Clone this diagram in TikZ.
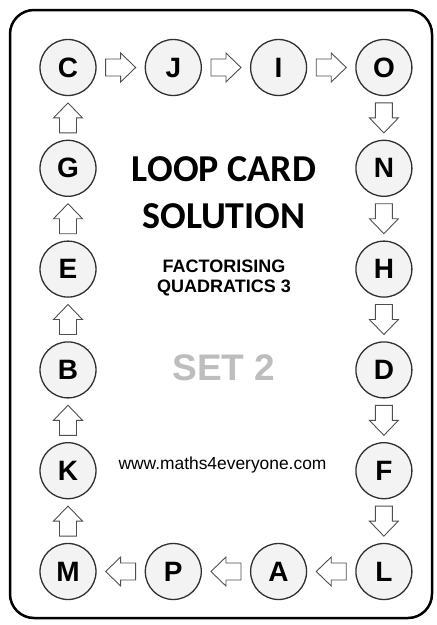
\documentclass[tikz,border=0pt]{standalone}
\usepackage{fontspec}
\setmainfont{Liberation Sans}
\newfontfamily\cardtitlefont{Carlito}
\usepackage{tikz}
\usetikzlibrary{arrows.meta, positioning, calc}

\definecolor{cardfill}{HTML}{F3F3F3}
\definecolor{cardline}{HTML}{303030}
\definecolor{setgrey}{HTML}{BDBDBD}

\begin{document}
\begin{tikzpicture}[
        x=1pt, y=-1pt,
        node distance=43.5pt and 48pt,
        letter/.style={circle, draw=cardline, line width=1.3pt, fill=cardfill,
            minimum size=56pt, inner sep=0pt,
            font=\bfseries\fontsize{28}{28}\selectfont},
        blockarrow/.pic={
            \draw[draw=cardline!85, line width=0.9pt, fill=white, line join=miter]
              (-15,-8.5) -- (0,-8.5) -- (0,-14.5) -- (15,0) -- (0,14.5)
              -- (0,8.5) -- (-15,8.5) -- cycle;
          }
      ]

      \useasboundingbox (0,0) rectangle (437,625);

      % ==================== CARD ====================

      \draw[line width=2.5pt, rounded corners=24pt] (10,10) rectangle (432,618);

      % ==================== LETTERS ====================

      \node (C) [letter] at (68,67.5) {C};
      \node (J) [letter, right=of C] {J};
      \node (I) [letter, right=of J] {I};
      \node (O) [letter, right=of I] {O};

      \node (G) [letter, below=of C] {G};
      \node (E) [letter, below=of G] {E};
      \node (B) [letter, below=of E] {B};
      \node (K) [letter, below=of B] {K};
      \node (M) [letter, below=of K] {M};

      \node (N) [letter, below=of O] {N};
      \node (H) [letter, below=of N] {H};
      \node (D) [letter, below=of H] {D};
      \node (F) [letter, below=of D] {F};
      \node (L) [letter, below=of F] {L};

      \node (P) [letter, right=of M] {P};
      \node (A) [letter, right=of P] {A};

      % ==================== ARROWS ====================

      % top row, to the right
      \pic at ($(C)!0.5!(J)$) {blockarrow};
      \pic at ($(J)!0.5!(I)$) {blockarrow};
      \pic at ($(I)!0.5!(O)$) {blockarrow};

      % right column, downwards (y axis points down here)
      \pic[rotate=-90] at ($(O)!0.5!(N)$) {blockarrow};
      \pic[rotate=-90] at ($(N)!0.5!(H)$) {blockarrow};
      \pic[rotate=-90] at ($(H)!0.5!(D)$) {blockarrow};
      \pic[rotate=-90] at ($(D)!0.5!(F)$) {blockarrow};
      \pic[rotate=-90] at ($(F)!0.5!(L)$) {blockarrow};

      % bottom row, to the left
      \pic[rotate=180] at ($(L)!0.5!(A)$) {blockarrow};
      \pic[rotate=180] at ($(A)!0.5!(P)$) {blockarrow};
      \pic[rotate=180] at ($(P)!0.5!(M)$) {blockarrow};

      % left column, upwards
      \pic[rotate=90] at ($(M)!0.5!(K)$) {blockarrow};
      \pic[rotate=90] at ($(K)!0.5!(B)$) {blockarrow};
      \pic[rotate=90] at ($(B)!0.5!(E)$) {blockarrow};
      \pic[rotate=90] at ($(E)!0.5!(G)$) {blockarrow};
      \pic[rotate=90] at ($(G)!0.5!(C)$) {blockarrow};

      % ==================== TEXT ====================

      \node (Title) [align=center, font=\cardtitlefont\bfseries\fontsize{38}{47}\selectfont]
        at (224,192.5) {LOOP CARD\\SOLUTION};
      \node (Topic) [align=center, font=\bfseries\fontsize{18}{19.5}\selectfont]
        at (224,278) {FACTORISING\\QUADRATICS 3};
      \node (Set) [text=setgrey, font=\bfseries\fontsize{37}{37}\selectfont]
        at (224,367.5) {SET 2};
      \node (Web) [font=\fontsize{17.4}{17.4}\selectfont]
        at (222.5,465) {www.maths4everyone.com};

    \end{tikzpicture}
\end{document}
